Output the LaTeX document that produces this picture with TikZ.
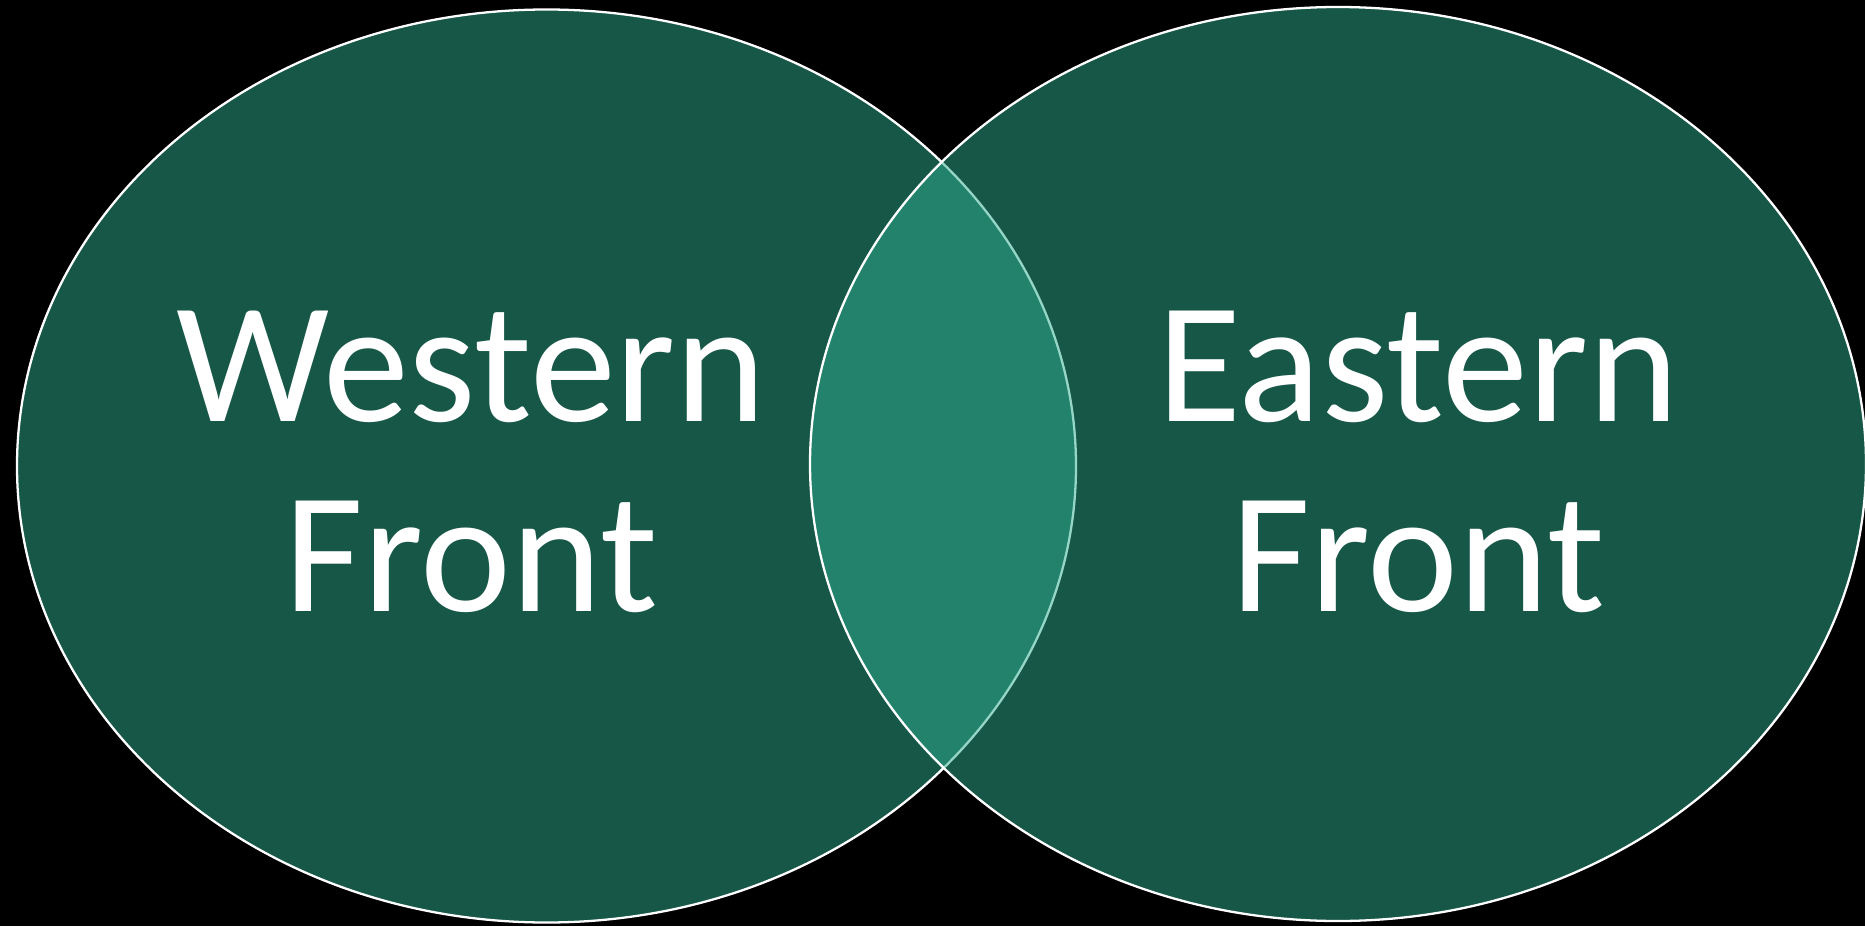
\documentclass[tikz,border=0pt]{standalone}
\usepackage{xcolor}
\usepackage{fontspec}
\setmainfont{Carlito}
\usetikzlibrary{positioning}
\definecolor{frontgreen}{RGB}{46,174,144}

\begin{document}
\begin{tikzpicture}[
      x=0.02cm,
      y=-0.02cm,
      frontset/.style={fill=frontgreen, fill opacity=.5, draw=white, line width=1.3pt},
      frontlabel/.style={text=white, align=center, font=\fontsize{98}{108}\selectfont}
    ]
  % Black backdrop fixes the page size.
  \fill[black] (0,0) rectangle (1865,926);
  \useasboundingbox (0,0) rectangle (1865,926);

  % The right set is painted over the left one, so the overlap comes out lighter.
  \draw[frontset] (546.5,466) ellipse [x radius=529.5, y radius=456.5];
  \draw[frontset] (1338,464) ellipse [x radius=528, y radius=457];

  \node[frontlabel] (western) at (471,462) {Western\\Front};
  \node[frontlabel] (eastern) at (1418,462) {Eastern\\Front};
\end{tikzpicture}
\end{document}
